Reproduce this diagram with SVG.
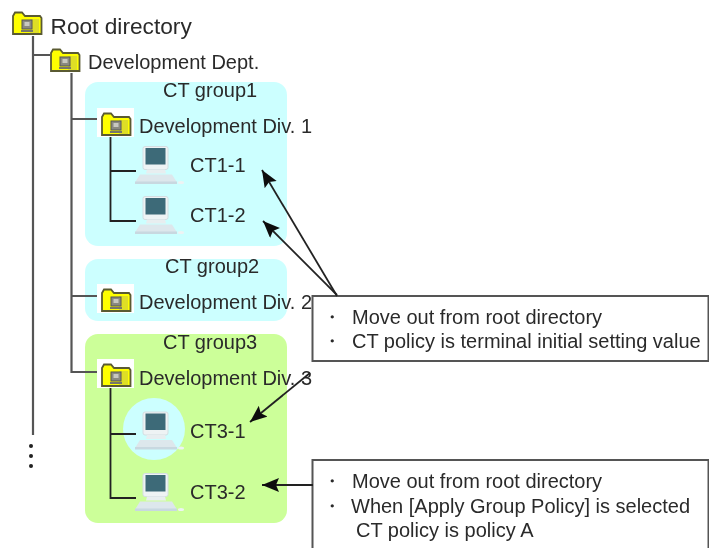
<svg xmlns="http://www.w3.org/2000/svg" xmlns:xlink="http://www.w3.org/1999/xlink" width="709" height="548" viewBox="0 0 709 548">
<style>
text{font-family:"Liberation Sans",Arial,sans-serif;font-size:20px;fill:#2a2a2a}
.tree{fill:none;stroke:#555;stroke-width:2.200}
.leaf{fill:none;stroke:#222;stroke-width:1.800}
.arrow{fill:none;stroke:#222;stroke-width:1.800;marker-end:url(#head)}
.box{fill:#fff;stroke:#555;stroke-width:2}
.halo{fill:#fff}
</style>
<defs>
<filter id="soft" x="0" y="0" width="100%" height="100%" filterUnits="userSpaceOnUse"><feGaussianBlur stdDeviation="0.550"/></filter>
<marker id="head" markerUnits="userSpaceOnUse" markerWidth="18" markerHeight="15" refX="17" refY="7" orient="auto"><path d="M0 0L17 7L0 14L3 7Z" fill="#111"/></marker>
<symbol id="folder" width="30" height="24" viewBox="0 0 30 24" overflow="visible">
<path d="M1 23V5L3 1.500H10L13 5H28L29.500 7V23Z" fill="#ffff00" stroke="#5a5a30" stroke-width="1.800"/>
<path d="M18 8H27V22H18Z" fill="#c8c840" opacity=".6"/>
<rect x="10" y="9" width="10" height="9" fill="#8a8a80" stroke="#555" stroke-width="1"/>
<rect x="12.500" y="11" width="5" height="4" fill="#c8c8c0"/>
<rect x="9" y="19" width="12" height="2" fill="#77776a"/>
</symbol>
<symbol id="pc" width="50" height="38" viewBox="0 0 50 38" overflow="visible">
<rect x="8" y="0" width="25" height="23" rx="2" fill="#eef3f4" stroke="#d4dee2"/>
<rect x="10.500" y="1.500" width="20" height="16.500" fill="#3d6a78"/>
<path d="M12 23H30L31 27H11Z" fill="#e8eef0"/>
<path d="M5 28H37L42 36H0Z" fill="#dde7ec"/>
<rect x="0" y="35" width="42" height="2.500" fill="#c8d8e0"/>
<ellipse cx="46" cy="36" rx="3" ry="1.500" fill="#eef3f4"/>
</symbol>
</defs>
<rect width="709" height="548" fill="#fff"/>
<g id="diagram" filter="url(#soft)">
<g id="group-areas">
<rect id="ct-group1-area" x="85" y="82" width="202" height="164" rx="13" fill="#ccffff"/>
<rect id="ct-group2-area" x="85" y="259" width="202" height="62" rx="13" fill="#ccffff"/>
<rect id="ct-group3-area" x="85" y="334" width="202" height="189" rx="13" fill="#ccff99"/>
<circle id="ct3-1-highlight" cx="154" cy="429" r="31" fill="#ccffff"/>
</g>
<g id="connectors">
<path class="tree" d="M33 36V435M33 55H50M71.500 73V372H98M72 119H98M72 296H97"/>
<path class="leaf" d="M110.500 137V221H136M110.500 171H136M110.500 388V498H136M110.500 434H136"/>
</g>
<g id="root"><use xlink:href="#folder" href="#folder" x="12" y="11"/><text x="50.500" y="34" style="font-size:22.700px">Root directory</text></g>
<g id="dept"><use href="#folder" x="50" y="48"/><text x="88" y="69">Development Dept.</text></g>
<g id="group1-label"><text x="163" y="97">CT group1</text></g>
<g id="div1"><rect class="halo" x="97" y="108" width="37" height="29"/><use href="#folder" x="101" y="112"/><text x="139" y="133">Development Div. 1</text></g>
<g id="ct1-1"><use href="#pc" x="135" y="146.500"/><text x="190" y="172">CT1-1</text></g>
<g id="ct1-2"><use href="#pc" x="135" y="196.500"/><text x="190" y="222">CT1-2</text></g>
<g id="group2-label"><text x="165" y="273">CT group2</text></g>
<g id="div2"><rect class="halo" x="97" y="284" width="37" height="29"/><use href="#folder" x="101" y="288"/><text x="139" y="309">Development Div. 2</text></g>
<g id="group3-label"><text x="163" y="349">CT group3</text></g>
<g id="div3"><rect class="halo" x="97" y="359" width="37" height="29"/><use href="#folder" x="101" y="363"/><text x="139" y="385">Development Div. 3</text></g>
<g id="ct3-1"><use href="#pc" x="135" y="412"/><text x="190" y="438">CT3-1</text></g>
<g id="ct3-2"><use href="#pc" x="135" y="473.500"/><text x="190" y="499">CT3-2</text></g>
<g id="more"><circle cx="31" cy="446" r="2" fill="#222"/><circle cx="31" cy="456" r="2" fill="#222"/><circle cx="31" cy="466" r="2" fill="#222"/></g>
<g id="note1"><rect class="box" x="312.500" y="296" width="396" height="65"/>
<text x="322" y="324">・</text><text x="352" y="324">Move out from root directory</text>
<text x="322" y="348">・</text><text x="352" y="348">CT policy is terminal initial setting value</text></g>
<g id="note2"><rect class="box" x="312.500" y="460" width="396" height="100"/>
<text x="322" y="488">・</text><text x="352" y="488">Move out from root directory</text>
<text x="322" y="513">・</text><text x="351" y="513">When [Apply Group Policy] is selected</text>
<text x="356" y="537">CT policy is policy A</text></g>
<g id="arrows">
<path class="arrow" d="M337 296L262 170"/>
<path class="arrow" d="M337 295L263 221"/>
<path class="arrow" d="M310 373L250 422"/>
<path class="arrow" d="M313 485H262"/>
</g>
</g>
</svg>
